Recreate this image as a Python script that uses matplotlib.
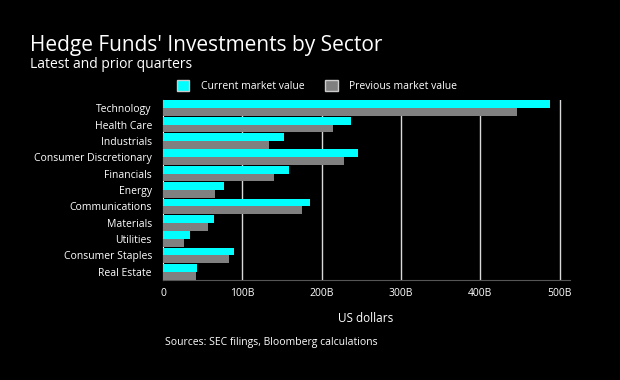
import numpy as np
import matplotlib.pyplot as plt

sectors = ['Technology', 'Health Care', 'Industrials', 'Consumer Discretionary',
           'Financials', 'Energy', 'Communications', 'Materials', 'Utilities',
           'Consumer Staples', 'Real Estate']
current = [488, 237, 152, 246, 159, 77, 185, 64, 34, 89, 43]
previous = [446, 214, 133, 228, 140, 66, 175, 57, 27, 83, 42]
xticks = [0, 100, 200, 300, 400, 500]
xticklabels = ['0', '100B', '200B', '300B', '400B', '500B']

plt.rcParams['font.family'] = ['Open Sans', 'DejaVu Sans']

fig = plt.figure(figsize=(6.2, 3.8), dpi=100, facecolor='black')
ax = fig.add_axes([163/620, 1-280/380, (570-163)/620, 180/380], facecolor='black')

y = np.arange(len(sectors))
h = 0.48
ax.barh(y - h/2, current, height=h, color='#00ffff', zorder=3, label='Current market value')
ax.barh(y + h/2, previous, height=h, color='#808080', zorder=3, label='Previous market value')

ax.set_ylim(len(sectors) - 0.5, -0.5)
ax.set_xlim(0, 513)
ax.set_yticks(y)
ax.set_yticklabels(sectors, color='white', fontsize=7.5)
ax.set_xticks(xticks)
ax.set_xticklabels(xticklabels, color='white', fontsize=7.5)
ax.tick_params(axis='both', length=0, pad=6)
ax.tick_params(axis='y', pad=8)
for v in xticks[1:]:
    ax.axvline(v, color='#d9d9d9', lw=1, zorder=1)

for s in ['top', 'right']:
    ax.spines[s].set_visible(False)
ax.spines['left'].set_color('white')
ax.spines['bottom'].set_color('#555555')

fig.text(30/620, 1-45/380, "Hedge Funds' Investments by Sector", color='white',
         fontsize=15, va='center')
fig.text(30/620, 1-65/380, 'Latest and prior quarters', color='white',
         fontsize=10, va='center')

leg = fig.legend(loc='center', bbox_to_anchor=(317/620, 1-86/380), ncol=2,
                 frameon=False, fontsize=7.5, labelcolor='white',
                 handlelength=1.2, handleheight=1.2, handletextpad=1.1,
                 columnspacing=2.0)
for p in leg.get_patches():
    p.set_edgecolor('#cccccc')
    p.set_linewidth(1)

fig.text(366/620, 1-319/380, 'US dollars', color='white', fontsize=8.5,
         ha='center', va='center')
fig.text(165/620, 1-342/380, 'Sources: SEC filings, Bloomberg calculations',
         color='white', fontsize=7.5, va='center')

fig.savefig('out.png', dpi=100, facecolor='black')
